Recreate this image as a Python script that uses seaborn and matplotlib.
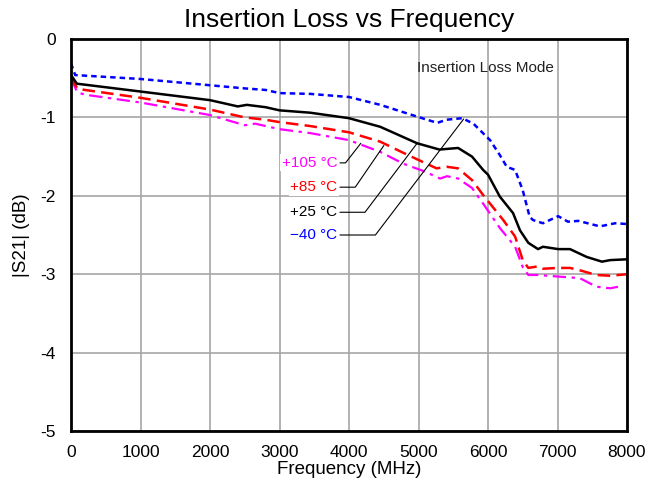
import matplotlib
matplotlib.use("Agg")
import matplotlib.pyplot as plt
import seaborn as sns
import pandas as pd

# ---- data (MHz, dB) ----
freq_m40 = [0, 60, 1000, 2000, 2500, 2800, 3000, 3440, 4000, 4450, 4980, 5270, 5400, 5630,
            5790, 6030, 6170, 6270, 6390, 6500, 6600, 6650, 6790, 7010, 7150, 7300, 7610, 7830, 8000]
loss_m40 = [-0.31, -0.46, -0.51, -0.59, -0.63, -0.65, -0.69, -0.70, -0.74, -0.84, -0.99, -1.07, -1.03, -1.01,
            -1.08, -1.29, -1.48, -1.63, -1.67, -1.93, -2.27, -2.31, -2.35, -2.26, -2.33, -2.32, -2.39, -2.35, -2.36]

freq_25 = [0, 85, 1000, 2000, 2400, 2530, 2800, 3000, 3440, 4000, 4450, 4980, 5300, 5570, 5770,
           5930, 6000, 6170, 6360, 6460, 6580, 6720, 6790, 7010, 7180, 7420, 7640, 7760, 8000]
loss_25 = [-0.46, -0.57, -0.67, -0.78, -0.86, -0.84, -0.87, -0.91, -0.94, -1.01, -1.12, -1.33, -1.41, -1.39, -1.50,
           -1.67, -1.73, -2.01, -2.22, -2.44, -2.60, -2.68, -2.65, -2.68, -2.68, -2.78, -2.84, -2.82, -2.81]

freq_85 = [0, 90, 200, 1000, 2000, 2500, 2800, 3000, 3440, 4000, 4450, 4800, 5090, 5260, 5410, 5570,
           5770, 5930, 6030, 6220, 6390, 6500, 6580, 6720, 6790, 7010, 7180, 7320, 7560, 7760, 8000]
loss_85 = [-0.48, -0.63, -0.65, -0.75, -0.90, -1.00, -1.03, -1.06, -1.11, -1.19, -1.31, -1.46, -1.58, -1.65, -1.63, -1.65,
           -1.80, -1.99, -2.10, -2.31, -2.52, -2.82, -2.92, -2.90, -2.93, -2.92, -2.92, -2.95, -3.01, -3.02, -3.00]

freq_105 = [0, 90, 200, 1000, 2000, 2500, 2650, 2800, 3000, 3440, 4000, 4450, 4780, 5090, 5310,
            5410, 5570, 5770, 5930, 6170, 6390, 6500, 6580, 6720, 7010, 7320, 7560, 7760, 7870]
loss_105 = [-0.50, -0.68, -0.71, -0.81, -0.97, -1.10, -1.08, -1.11, -1.15, -1.20, -1.29, -1.44, -1.59, -1.69, -1.78,
            -1.75, -1.78, -1.90, -2.10, -2.41, -2.65, -2.91, -3.01, -3.01, -3.03, -3.05, -3.16, -3.18, -3.16]

series_labels = ["+105 °C", "+85 °C", "+25 °C", "\u221240 °C"]
x_ticks = [0, 1000, 2000, 3000, 4000, 5000, 6000, 7000, 8000]
y_ticks = [0, -1, -2, -3, -4, -5]

# ---- style ----
sns.set_theme(style="whitegrid")
plt.rcParams["font.family"] = ["Liberation Sans", "DejaVu Sans"]

fig = plt.figure(figsize=(6.46, 4.90), dpi=100)
ax = fig.add_axes([71 / 646, 1 - 431 / 490, 556 / 646, 392 / 490])

series = [
    (freq_105, loss_105, "#ff00ff", (6, 2.5, 1.5, 2.5), 1.6),
    (freq_85, loss_85, "#ff0000", (5, 2.5), 1.8),
    (freq_25, loss_25, "#000000", None, 1.8),
    (freq_m40, loss_m40, "#0000ff", (2.2, 1.6), 1.8),
]
for (fx, fy, col, dash, lw), lab in zip(series, series_labels):
    df = pd.DataFrame({"f": fx, "s21": fy})
    sns.lineplot(data=df, x="f", y="s21", ax=ax, color=col, lw=lw, label=lab)
    if dash is not None:
        ax.lines[-1].set_dashes(dash)

if ax.get_legend() is not None:
    ax.get_legend().remove()

ax.set_xlim(0, 8000)
ax.set_ylim(-5, 0)
ax.set_xticks(x_ticks)
ax.set_yticks(y_ticks)
ax.set_xticklabels([str(t) for t in x_ticks])
ax.set_yticklabels([str(t) for t in y_ticks])
ax.tick_params(axis="both", length=0, labelsize=12.5, colors="black")
ax.tick_params(axis="x", pad=10)
ax.tick_params(axis="y", pad=11)
ax.grid(True, color="#a6a6a6", lw=1.2)
for sp in ax.spines.values():
    sp.set_color("black")
    sp.set_linewidth(2)

ax.set_xlabel("Frequency (MHz)", fontsize=13.5, labelpad=1, color="black")
ax.set_ylabel("|S21| (dB)", fontsize=13.5, labelpad=7, color="black")
ax.set_title("Insertion Loss vs Frequency", fontsize=19, pad=9, color="black")

ax.text(5957, -0.37, "Insertion Loss Mode", ha="center", va="center", fontsize=11, color="#222222")

# leader-line annotations
label_y = [-1.58, -1.89, -2.21, -2.50]
label_cols = ["#ff00ff", "#ff0000", "#000000", "#0000ff"]
elbow_x = [3950, 4090, 4230, 4380]
tip = [(4170, -1.33), (4500, -1.36), (4980, -1.33), (5650, -1.02)]
for ly, lc, ex, (tx, ty), lab in zip(label_y, label_cols, elbow_x, tip, series_labels):
    ax.text(3830, ly, lab, ha="right", va="center", fontsize=11, color=lc,
            bbox=dict(facecolor="white", edgecolor="none", pad=1))
    ax.plot([3870, ex, tx], [ly, ly, ty], color="black", lw=0.8)

fig.savefig("out.png", dpi=100)
